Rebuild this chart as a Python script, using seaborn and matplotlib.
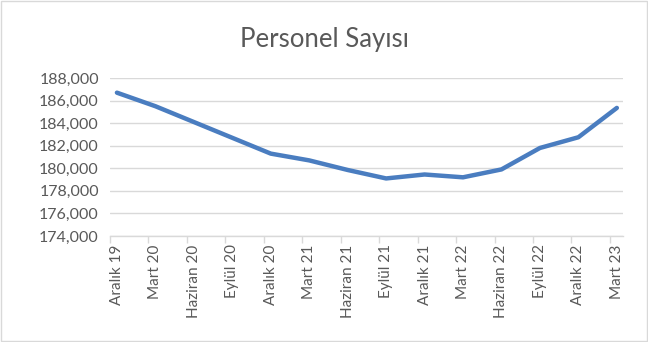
import matplotlib
matplotlib.use("Agg")
import matplotlib.pyplot as plt
import seaborn as sns
import pandas as pd
from matplotlib.patches import Rectangle
from matplotlib.ticker import FuncFormatter, FixedLocator

categories = ["Aralık 19", "Mart 20", "Haziran 20", "Eylül 20", "Aralık 20", "Mart 21",
              "Haziran 21", "Eylül 21", "Aralık 21", "Mart 22", "Haziran 22", "Eylül 22",
              "Aralık 22", "Mart 23"]
values = [186700, 185500, 184100, 182700, 181300, 180700, 179850, 179100,
          179450, 179200, 179900, 181800, 182750, 185350]
y_ticks = [174000, 176000, 178000, 180000, 182000, 184000, 186000, 188000]
title = "Personel Sayısı"

sns.set_theme(style="white")
plt.rcParams['font.family'] = ['Lato', 'DejaVu Sans']

df = pd.DataFrame({"pos": range(len(categories)), "cat": categories, "val": values})

fig = plt.figure(figsize=(6.48, 3.42), dpi=100)
ax = fig.add_axes([110/648, (342-236)/342, (623-110)/648, (236-78)/342])

sns.lineplot(data=df, x="pos", y="val", ax=ax, color="#4A7DC0", lw=3.2,
             solid_capstyle="round", solid_joinstyle="round")

ax.set_ylim(y_ticks[0], y_ticks[-1])
ax.set_yticks(y_ticks)
ax.yaxis.set_major_formatter(FuncFormatter(lambda v, p: f"{int(v):,}"))
off = 0.18
ax.set_xlim(-off, len(categories) - 1 + 0.16)
ax.set_xticks(list(range(len(categories))))
ax.set_xticklabels(categories, rotation=90)
ax.xaxis.set_minor_locator(FixedLocator([k - off for k in range(len(categories))]))
ax.tick_params(axis="x", which="major", length=0, pad=6, labelsize=11, colors="#595959")
ax.tick_params(axis="x", which="minor", length=5, width=1, color="#d9d9d9", bottom=True)
ax.tick_params(axis="y", length=0, pad=8, labelsize=11.5, colors="#595959")
for lbl in ax.get_xticklabels():
    lbl.set_color("#595959")

ax.grid(axis="y", color="#d9d9d9", lw=1)
ax.set_axisbelow(True)
for s in ["top", "right", "left"]:
    ax.spines[s].set_visible(False)
ax.spines["bottom"].set_color("#d9d9d9")
ax.spines["bottom"].set_linewidth(1)
ax.set_xlabel("")
ax.set_ylabel("")

fig.text(0.5, (342-40)/342, title, ha="center", va="center", fontsize=18.5,
         color="#595959", fontweight="normal")

fig.patches.append(Rectangle((0.002, 0.003), 0.996, 0.994, transform=fig.transFigure,
                             fill=False, edgecolor="#d9d9d9", lw=1))

fig.savefig("out.png", dpi=100)
